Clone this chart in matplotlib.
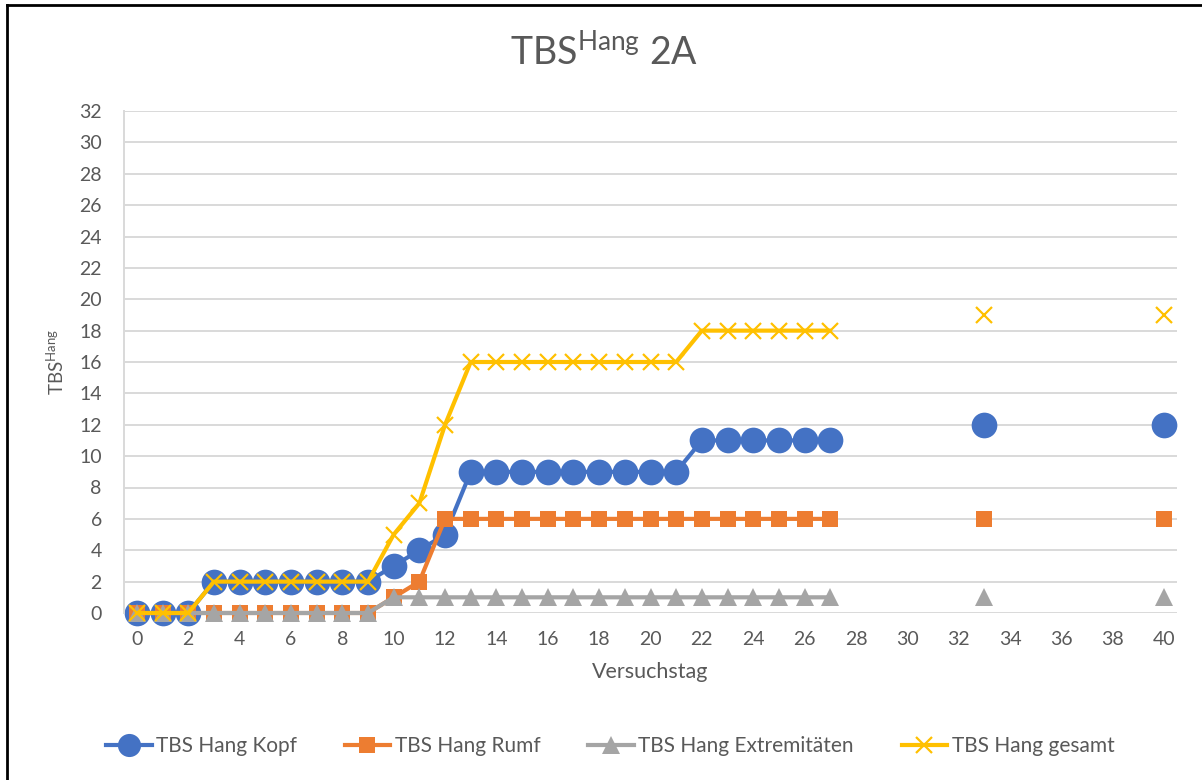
import numpy as np
import matplotlib
matplotlib.use("Agg")
import matplotlib.pyplot as plt
from matplotlib.lines import Line2D

days = list(range(0, 28)) + [33, 40]
kopf = [0, 0, 0, 2, 2, 2, 2, 2, 2, 2, 3, 4, 5, 9, 9, 9, 9, 9, 9, 9, 9, 9, 11, 11, 11, 11, 11, 11, 12, 12]
rumpf = [0, 0, 0, 0, 0, 0, 0, 0, 0, 0, 1, 2, 6, 6, 6, 6, 6, 6, 6, 6, 6, 6, 6, 6, 6, 6, 6, 6, 6, 6]
extrem = [0, 0, 0, 0, 0, 0, 0, 0, 0, 0, 1, 1, 1, 1, 1, 1, 1, 1, 1, 1, 1, 1, 1, 1, 1, 1, 1, 1, 1, 1]
gesamt = [0, 0, 0, 2, 2, 2, 2, 2, 2, 2, 5, 7, 12, 16, 16, 16, 16, 16, 16, 16, 16, 16, 18, 18, 18, 18, 18, 18, 19, 19]
labels = ["TBS Hang Kopf", "TBS Hang Rumf", "TBS Hang Extremitäten", "TBS Hang gesamt"]
x_ticks = list(range(0, 41, 2))
y_ticks = list(range(0, 33, 2))

FONT = "Lato"
plt.rcParams['font.family'] = [FONT, 'DejaVu Sans']
plt.rcParams['mathtext.fontset'] = 'custom'
plt.rcParams['mathtext.rm'] = FONT
plt.rcParams['mathtext.it'] = FONT
TXT = "#595959"

W, H = 1202, 780
fig = plt.figure(figsize=(W / 100, H / 100), dpi=100)
ax = fig.add_axes([124 / W, 1 - 613 / H, (1177 - 124) / W, (613 - 111) / H])

def with_gaps(xs, ys):
    ox, oy = [], []
    for i, (x, y) in enumerate(zip(xs, ys)):
        if i > 0 and x - xs[i - 1] > 1:
            ox.append(np.nan); oy.append(np.nan)
        ox.append(x); oy.append(y)
    return np.array(ox, float), np.array(oy, float)

styles = [
    dict(color="#4472C4", marker="o", ms=18.5, mew=0, lw=3),
    dict(color="#ED7D31", marker="s", ms=11, mew=0, lw=3),
    dict(color="#A5A5A5", marker="^", ms=13, mew=0, lw=3),
    dict(color="#FFC000", marker="x", ms=11, mew=1.6, lw=3),
]
series = [kopf, rumpf, extrem, gesamt]
for vals, st, lab in zip(series, styles, labels):
    gx, gy = with_gaps(days, vals)
    ax.plot(gx, gy, color=st["color"], lw=st["lw"], solid_capstyle="round",
            solid_joinstyle="round", clip_on=False)
    ax.plot(days, vals, ls="none", marker=st["marker"], ms=st["ms"],
            mew=st["mew"], color=st["color"], mec=st["color"], clip_on=False)

ax.set_xlim(-0.5, 40.5)
ax.set_ylim(0, 32)
ax.set_xticks(x_ticks)
ax.set_yticks(y_ticks)
ax.grid(axis="y", color="#D9D9D9", lw=1.4)
ax.set_axisbelow(True)
for s in ["top", "right", "bottom"]:
    ax.spines[s].set_visible(False)
ax.spines["left"].set_color("#D9D9D9")
ax.spines["left"].set_linewidth(1.4)
ax.tick_params(length=0, labelsize=14, colors=TXT)
ax.tick_params(axis="x", pad=13)
ax.tick_params(axis="y", pad=16)

ax.set_xlabel("Versuchstag", fontsize=15.5, color=TXT, labelpad=10)
fig.text(56 / W, 1 - 362 / H, r"TBS$^{\mathrm{Hang}}$", rotation=90, fontsize=13.5,
         color=TXT, ha="center", va="center")
fig.text(604 / W, 1 - 52 / H, r"TBS$^{\mathrm{Hang}}$ 2A", fontsize=27, color=TXT,
         ha="center", va="center")

handles = [Line2D([0], [0], color=st["color"], lw=st["lw"], marker=st["marker"],
                  ms=st["ms"] * (0.9 if i == 0 else 1), mew=st["mew"], mec=st["color"])
           for i, st in enumerate(styles)]
fig.legend(handles, labels, loc="center", bbox_to_anchor=(610 / W, 1 - 746 / H), ncol=4,
           frameon=False, fontsize=15, labelcolor=TXT, handlelength=2.2,
           handletextpad=0.2, columnspacing=2.3)

fig.add_artist(Line2D([7 / W, 7 / W], [0, 1 - 5 / H], color="black", lw=2))
fig.add_artist(Line2D([7 / W, 1], [1 - 5 / H, 1 - 5 / H], color="black", lw=2))

fig.savefig("out.png", dpi=100)
